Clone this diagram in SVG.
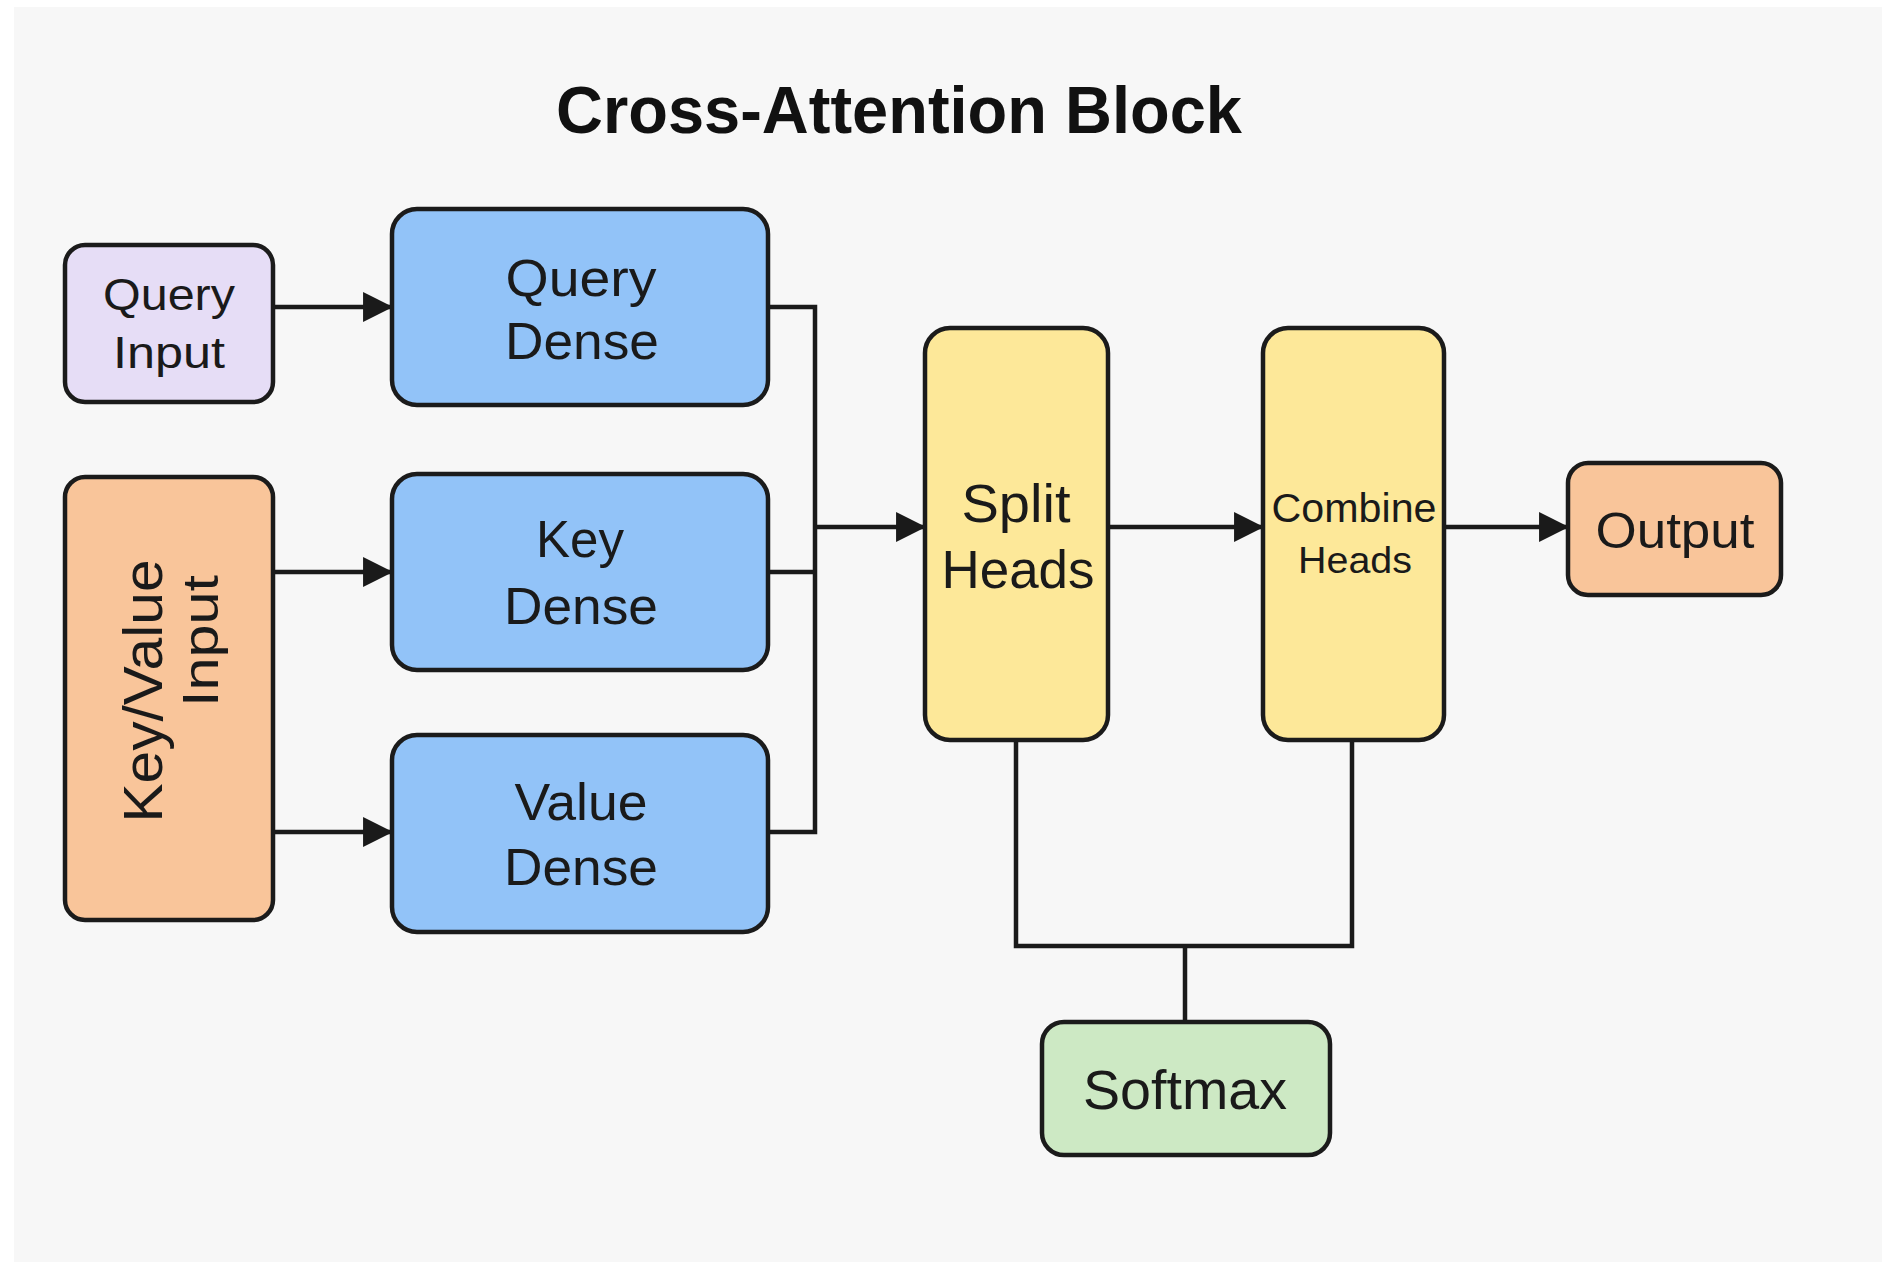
<svg xmlns="http://www.w3.org/2000/svg" width="1882" height="1264" viewBox="0 0 1882 1264">
  <defs>
    <marker id="arrow" markerUnits="userSpaceOnUse" markerWidth="30" markerHeight="30" viewBox="0 0 28 28" refX="27" refY="14" orient="auto">
      <path d="M0,0 L28,14 L0,28 Z" fill="#1a1a1a"/>
    </marker>
    <style>
      .box { stroke: #1b1b1b; stroke-width: 4.5; }
      .lavender { fill: #e6ddf6; }
      .blue { fill: #92c3f8; }
      .peach { fill: #f9c59a; }
      .yellow { fill: #fde899; }
      .green { fill: #cde9c4; }
      .label { font-family: "Liberation Sans", Arial, sans-serif; fill: #1a1a1a; text-anchor: middle; }
      .title { font-family: "Liberation Sans", Arial, sans-serif; font-weight: bold; fill: #111; text-anchor: middle; }
      .wire { fill: none; stroke: #1a1a1a; stroke-width: 4.5; stroke-linejoin: miter; }
    </style>
  </defs>

  <!-- page background -->
  <rect x="0" y="0" width="1882" height="1264" fill="#ffffff"/>
  <rect x="14" y="7" width="1868" height="1255" fill="#f7f7f7"/>

  <text class="title" x="899" y="133" font-size="67" textLength="686" lengthAdjust="spacingAndGlyphs">Cross-Attention Block</text>

  <!-- connectors -->
  <g id="connectors">
    <line class="wire" x1="273" y1="307" x2="392" y2="307" marker-end="url(#arrow)"/>
    <line class="wire" x1="273" y1="572" x2="392" y2="572" marker-end="url(#arrow)"/>
    <line class="wire" x1="273" y1="832" x2="392" y2="832" marker-end="url(#arrow)"/>
    <polyline class="wire" points="768,307 815,307 815,832 768,832"/>
    <line class="wire" x1="768" y1="572" x2="815" y2="572"/>
    <line class="wire" x1="815" y1="527" x2="925" y2="527" marker-end="url(#arrow)"/>
    <line class="wire" x1="1108" y1="527" x2="1263" y2="527" marker-end="url(#arrow)"/>
    <line class="wire" x1="1444" y1="527" x2="1568" y2="527" marker-end="url(#arrow)"/>
    <polyline class="wire" points="1016,740 1016,946 1352,946 1352,740"/>
    <line class="wire" x1="1185" y1="946" x2="1185" y2="1022"/>
  </g>

  <g id="query-input">
    <rect class="box lavender" x="65" y="245" width="208" height="157" rx="20"/>
    <text class="label" x="169" y="310" font-size="45" textLength="132" lengthAdjust="spacingAndGlyphs">Query</text>
    <text class="label" x="169" y="368" font-size="45" textLength="112" lengthAdjust="spacingAndGlyphs">Input</text>
  </g>

  <g id="key-value-input">
    <rect class="box peach" x="65" y="477" width="208" height="443" rx="20"/>
    <text class="label" transform="translate(162,691) rotate(-90)" x="0" y="0" font-size="55" textLength="263" lengthAdjust="spacingAndGlyphs">Key/Value</text>
    <text class="label" transform="translate(218,641) rotate(-90)" x="0" y="0" font-size="50" textLength="132" lengthAdjust="spacingAndGlyphs">Input</text>
  </g>

  <g id="query-dense">
    <rect class="box blue" x="392" y="209" width="376" height="196" rx="25"/>
    <text class="label" x="581" y="296" font-size="52" textLength="151" lengthAdjust="spacingAndGlyphs">Query</text>
    <text class="label" x="582" y="359" font-size="52" textLength="154" lengthAdjust="spacingAndGlyphs">Dense</text>
  </g>

  <g id="key-dense">
    <rect class="box blue" x="392" y="474" width="376" height="196" rx="25"/>
    <text class="label" x="580" y="557" font-size="52" textLength="88" lengthAdjust="spacingAndGlyphs">Key</text>
    <text class="label" x="581" y="624" font-size="52" textLength="154" lengthAdjust="spacingAndGlyphs">Dense</text>
  </g>

  <g id="value-dense">
    <rect class="box blue" x="392" y="735" width="376" height="197" rx="25"/>
    <text class="label" x="581" y="820" font-size="52" textLength="133" lengthAdjust="spacingAndGlyphs">Value</text>
    <text class="label" x="581" y="885" font-size="52" textLength="154" lengthAdjust="spacingAndGlyphs">Dense</text>
  </g>

  <g id="split-heads">
    <rect class="box yellow" x="925" y="328" width="183" height="412" rx="25"/>
    <text class="label" x="1016" y="522" font-size="53" textLength="109" lengthAdjust="spacingAndGlyphs">Split</text>
    <text class="label" x="1018" y="588" font-size="53" textLength="153" lengthAdjust="spacingAndGlyphs">Heads</text>
  </g>

  <g id="combine-heads">
    <rect class="box yellow" x="1263" y="328" width="181" height="412" rx="25"/>
    <text class="label" x="1354" y="522" font-size="40" textLength="165" lengthAdjust="spacingAndGlyphs">Combine</text>
    <text class="label" x="1355" y="573" font-size="36" textLength="114" lengthAdjust="spacingAndGlyphs">Heads</text>
  </g>

  <g id="output">
    <rect class="box peach" x="1568" y="463" width="213" height="132" rx="20"/>
    <text class="label" x="1675" y="548" font-size="50" textLength="159" lengthAdjust="spacingAndGlyphs">Output</text>
  </g>

  <g id="softmax">
    <rect class="box green" x="1042" y="1022" width="288" height="133" rx="22"/>
    <text class="label" x="1185" y="1109" font-size="56" textLength="204" lengthAdjust="spacingAndGlyphs">Softmax</text>
  </g>
</svg>
